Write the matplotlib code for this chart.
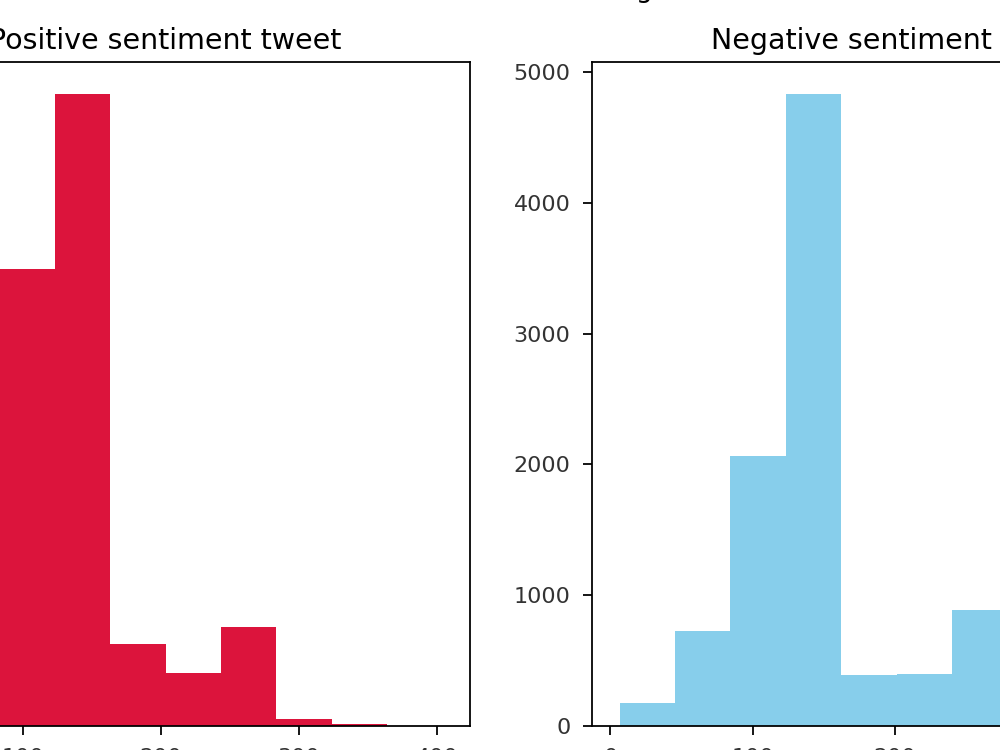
import matplotlib
matplotlib.use("Agg")
import matplotlib.pyplot as plt
from matplotlib.ticker import MultipleLocator

# bin edges (characters per tweet) and counts per bin
pos_edges = [3.0, 43.1, 83.2, 123.3, 163.4, 203.5, 243.6, 283.7, 323.8, 363.9, 404.0]
pos_counts = [160, 720, 3490, 4830, 630, 405, 755, 55, 15, 2]

neg_edges = [6.5, 45.4, 84.3, 123.2, 162.1, 201.0, 239.9, 278.8, 317.7, 356.6, 395.5]
neg_counts = [176, 726, 2064, 4835, 390, 398, 887, 60, 20, 5]

W, H = 1000, 750
fig = plt.figure(figsize=(6.25, 4.6875), dpi=160)

# the picture is a crop: axes run past the canvas edges
bottom = (H - 726) / H
height = 664 / H
ax1 = fig.add_axes([-139 / W, bottom, 609 / W, height])
ax2 = fig.add_axes([592 / W, bottom, 609 / W, height])

# stepfilled draws one polygon, so no seams between bars
ax1.hist(pos_edges[:-1], bins=pos_edges, weights=pos_counts,
         histtype="stepfilled", color="crimson")
ax1.set_title("Positive sentiment tweet", fontsize=12.8)

ax2.hist(neg_edges[:-1], bins=neg_edges, weights=neg_counts,
         histtype="stepfilled", color="skyblue")
ax2.set_title("Negative sentiment tweet", fontsize=12.8)

for ax in (ax1, ax2):
    ax.xaxis.set_major_locator(MultipleLocator(100))
    ax.tick_params(length=4, pad=5.7, labelcolor="#333333")

fig.text(0.595, 1.004, "Tweet length", ha="center", va="baseline", fontsize=12)

fig.savefig("out.png", dpi=160)
